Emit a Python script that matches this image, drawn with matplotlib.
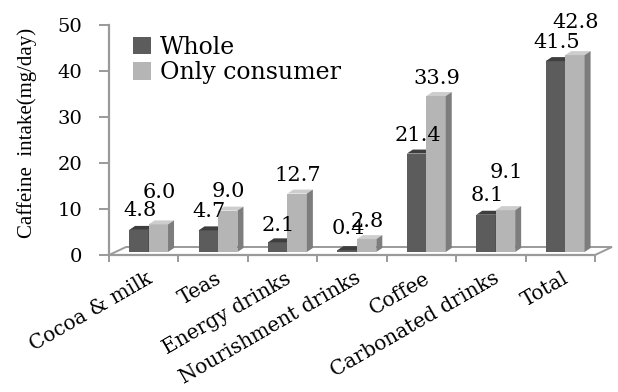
import matplotlib
matplotlib.use('Agg')
import matplotlib.pyplot as plt
from matplotlib.patches import Polygon, Patch
from matplotlib.transforms import ScaledTranslation, blended_transform_factory

# -----------------------------------------------------------------------------
# Data: caffeine intake (mg/day) by source
# -----------------------------------------------------------------------------
categories = ['Cocoa & milk', 'Teas', 'Energy drinks', 'Nourishment drinks',
              'Coffee', 'Carbonated drinks', 'Total']
whole = [4.8, 4.7, 2.1, 0.4, 21.4, 8.1, 41.5]
only_consumer = [6.0, 9.0, 12.7, 2.8, 33.9, 9.1, 42.8]
y_ticks = [0, 10, 20, 30, 40, 50]

# label lift above the bar top, in pixels (a few are raised to avoid overlap)
whole_lift = [19, 19, 17, 22, 18, 19, 19]
consumer_lift = [32, 19, 18, 18, 18, 38, 33]

# -----------------------------------------------------------------------------
# Figure / axes geometry (pixels)
# -----------------------------------------------------------------------------
W, H, DPI = 618, 392, 100
x0, x1 = 109, 595          # left / right end of the front floor edge
y0, y1 = 255, 25           # rows for 0 and 50

fig = plt.figure(figsize=(W / DPI, H / DPI), dpi=DPI)
ax = fig.add_axes([x0 / W, 1 - y0 / H, (x1 - x0) / W, (y0 - y1) / H])
ax.set_xlim(0, len(categories))
ax.set_ylim(0, 50)

px_x = (x1 - x0) / len(categories)
px_y = (y0 - y1) / 50

serif = 'DejaVu Serif'
axis_col = '#9a9a9a'

# colours: front, top, side
whole_cols = ('#5c5c5c', '#3e3e3e', '#3a3a3a')
cons_cols = ('#b5b5b5', '#cdcdcd', '#7d7d7d')

# bars sit in the middle of the floor, a bit above the front edge
base_shift = 3
bar_trans = ax.transData + ScaledTranslation(0, base_shift / DPI, fig.dpi_scale_trans)

bar_w = 0.28
bar_off = 0.29
ddx = 6 / px_x
ddy = 4 / px_y

# floor outline
fdx, fdy = 17 / px_x, 8 / px_y
floor = Polygon([(0, 0), (len(categories), 0),
                 (len(categories) + fdx, fdy), (fdx, fdy)],
                closed=True, facecolor='white', edgecolor=axis_col,
                lw=1.4, clip_on=False, zorder=1)
ax.add_patch(floor)


def draw_bar(left, val, cols, z):
    front, top, side = cols
    ax.bar(left, val, width=bar_w, align='edge', color=front,
           transform=bar_trans, clip_on=False, zorder=z, lw=0)
    ax.add_patch(Polygon([(left, val), (left + bar_w, val),
                          (left + bar_w + ddx, val + ddy), (left + ddx, val + ddy)],
                         closed=True, facecolor=top, edgecolor='none',
                         transform=bar_trans, clip_on=False, zorder=z))
    ax.add_patch(Polygon([(left + bar_w, 0), (left + bar_w + ddx, ddy),
                          (left + bar_w + ddx, val + ddy), (left + bar_w, val)],
                         closed=True, facecolor=side, edgecolor='none',
                         transform=bar_trans, clip_on=False, zorder=z))


for i, (w_val, c_val) in enumerate(zip(whole, only_consumer)):
    lw_ = i + bar_off
    lc_ = i + bar_off + bar_w
    draw_bar(lw_, w_val, whole_cols, 3 + 2 * i)
    draw_bar(lc_, c_val, cons_cols, 4 + 2 * i)

    for left, v, lift in ((lw_, w_val, whole_lift[i]), (lc_, c_val, consumer_lift[i])):
        ax.annotate(f'{v:.1f}', xy=(left + bar_w / 2, v), xycoords=bar_trans,
                    xytext=(1 * 0.72, lift * 0.72), textcoords='offset points',
                    ha='center', va='center', fontsize=15, family=serif,
                    color='black', zorder=30)

# axes styling
for s in ('top', 'right'):
    ax.spines[s].set_visible(False)
for s in ('left', 'bottom'):
    ax.spines[s].set_color(axis_col)
    ax.spines[s].set_linewidth(1.6)
    ax.spines[s].set_zorder(2)

ax.set_yticks(y_ticks)
ax.set_yticklabels([str(t) for t in y_ticks], fontsize=14, family=serif)
ax.tick_params(axis='y', length=7, width=1.4, color=axis_col, pad=12)

ax.set_xticks(range(len(categories) + 1))
ax.set_xticklabels([])
ax.tick_params(axis='x', length=5, width=1.4, color=axis_col)

# rotated category labels
lab_trans = blended_transform_factory(ax.transData, ax.transAxes) + \
    ScaledTranslation(0, -22 / DPI, fig.dpi_scale_trans)
for i, name in enumerate(categories):
    ax.text(i + 0.6, 0, name, transform=lab_trans, rotation=30,
            rotation_mode='anchor', ha='right', va='center',
            fontsize=14.5, family=serif, color='black')

fig.text(27 / W, 1 - 133 / H, 'Caffeine  intake(mg/day)', rotation=90,
         ha='center', va='center', fontsize=15, family='Liberation Serif')

handles = [Patch(facecolor=whole_cols[0], label='Whole'),
           Patch(facecolor=cons_cols[0], label='Only consumer')]
ax.legend(handles=handles, loc='upper left',
          bbox_to_anchor=(133 / W, 1 - 36 / H), bbox_transform=fig.transFigure,
          frameon=False, handlelength=0.75, handleheight=0.75,
          handletextpad=0.4, labelspacing=0.1, borderpad=0, borderaxespad=0,
          prop={'family': serif, 'size': 17})

fig.savefig('out.png', dpi=DPI)
